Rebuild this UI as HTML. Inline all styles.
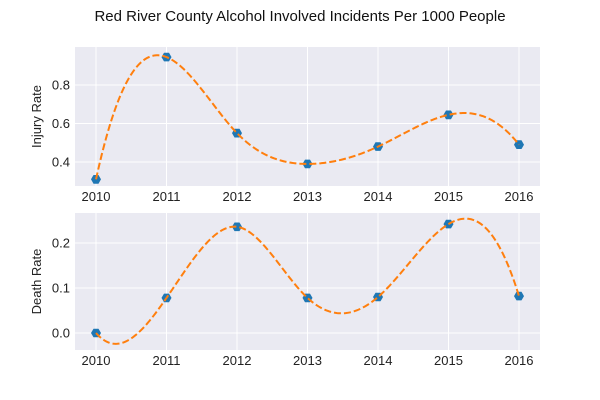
<!DOCTYPE html>
<html><head><meta charset="utf-8"><style>
body{margin:0;background:#fff;}
svg{display:block;font-family:"Liberation Sans",sans-serif;}
</style></head><body>
<svg id="chart" width="600" height="400">
<text x="300" y="21" text-anchor="middle" font-size="15" fill="#111">Red River County Alcohol Involved Incidents Per 1000 People</text>
<g id="top"></g>
<g id="bot"></g>
</svg>
<script>
const years = [2010, 2011, 2012, 2013, 2014, 2015, 2016];
const injuryRate = [0.31, 0.945, 0.55, 0.39, 0.48, 0.645, 0.49];
const deathRate = [0.0, 0.078, 0.236, 0.078, 0.08, 0.242, 0.082];
const injuryTicks = [0.4, 0.6, 0.8];
const deathTicks = [0.0, 0.1, 0.2];
const tickLabelsInjury = ["0.4", "0.6", "0.8"];
const tickLabelsDeath = ["0.0", "0.1", "0.2"];

const NS = "http://www.w3.org/2000/svg";
function mk(tag, attrs, parent){const e=document.createElementNS(NS,tag);for(const k in attrs)e.setAttribute(k,attrs[k]);parent.appendChild(e);return e;}

function spline(xs, ys){
  const n=xs.length, h=[];
  for(let i=0;i<n-1;i++)h.push(xs[i+1]-xs[i]);
  const A=[],b=[];
  for(let i=0;i<n;i++){A.push(new Array(n).fill(0));b.push(0);}
  A[0][0]=h[1];A[0][1]=-(h[0]+h[1]);A[0][2]=h[0];
  for(let i=1;i<n-1;i++){A[i][i-1]=h[i-1];A[i][i]=2*(h[i-1]+h[i]);A[i][i+1]=h[i];
    b[i]=6*((ys[i+1]-ys[i])/h[i]-(ys[i]-ys[i-1])/h[i-1]);}
  const m=n-1;A[m][m-2]=h[m-1];A[m][m-1]=-(h[m-2]+h[m-1]);A[m][m]=h[m-2];
  for(let c=0;c<n;c++){let p=c;for(let r=c+1;r<n;r++)if(Math.abs(A[r][c])>Math.abs(A[p][c]))p=r;
    [A[c],A[p]]=[A[p],A[c]];[b[c],b[p]]=[b[p],b[c]];
    for(let r=0;r<n;r++){if(r===c)continue;const f=A[r][c]/A[c][c];for(let k=c;k<n;k++)A[r][k]-=f*A[c][k];b[r]-=f*b[c];}}
  const M=b.map((v,i)=>v/A[i][i]);
  return function(x){let i=0;while(i<n-2&&x>xs[i+1])i++;const hh=h[i],a=xs[i+1]-x,d=x-xs[i];
    return M[i]*a*a*a/(6*hh)+M[i+1]*d*d*d/(6*hh)+(ys[i]/hh-M[i]*hh/6)*a+(ys[i+1]/hh-M[i+1]*hh/6)*d;};
}

function hexPts(cx,cy,r){let s=[];for(let k=0;k<6;k++){const a=Math.PI/6+k*Math.PI/3;s.push((cx+r*Math.sin(a)).toFixed(1)+","+(cy-r*Math.cos(a)).toFixed(1));}return s.join(" ");}

function panel(g, top, bottom, vals, ticks, labels, sy, ylabel, name){
  const L=75,R=540;
  const sx=v=>96+(v-2010)*70.5;
  const bg=mk("rect",{x:L,y:top,width:R-L,height:bottom-top,fill:"#EAEAF2"},g);
  
  
  years.forEach(yr=>{
    const l=mk("line",{x1:sx(yr),x2:sx(yr),y1:top,y2:bottom,stroke:"#fff","stroke-width":1},g);
    
    
    const t=mk("text",{x:sx(yr),y:bottom+15,"text-anchor":"middle","font-size":13,fill:"#222"},g);
    t.textContent=yr;
    
    
  });
  ticks.forEach((v,i)=>{
    const l=mk("line",{x1:L,x2:R,y1:sy(v),y2:sy(v),stroke:"#fff","stroke-width":1},g);
    
    
    const t=mk("text",{x:L-5,y:sy(v)+4.5,"text-anchor":"end","font-size":13,fill:"#222"},g);
    t.textContent=labels[i];
    
    
  });
  const cy=(top+bottom)/2;
  const yl=mk("text",{x:41,y:cy,"text-anchor":"middle","font-size":13,fill:"#222",transform:`rotate(-90 41 ${cy})`},g);
  yl.textContent=ylabel;
  
  
  years.forEach((yr,i)=>{
    const p=mk("polygon",{points:hexPts(sx(yr),sy(vals[i]),5),fill:"#1f77b4"},g);
    
    
  });
  const f=spline(years,vals);let d="";
  for(let k=0;k<=300;k++){const x=years[0]+(years[years.length-1]-years[0])*k/300;d+=(k?"L":"M")+sx(x).toFixed(2)+","+sy(f(x)).toFixed(2);}
  const path=mk("path",{d:d,fill:"none",stroke:"#ff7f0e","stroke-width":2,"stroke-dasharray":"7,3"},g);
  
  
}
panel(document.getElementById("top"),47,186,injuryRate,injuryTicks,tickLabelsInjury,v=>162-(v-0.4)*192.5,"Injury Rate","injury");
panel(document.getElementById("bot"),213,350,deathRate,deathTicks,tickLabelsDeath,v=>333-v*450,"Death Rate","death");
</script>
</body></html>
